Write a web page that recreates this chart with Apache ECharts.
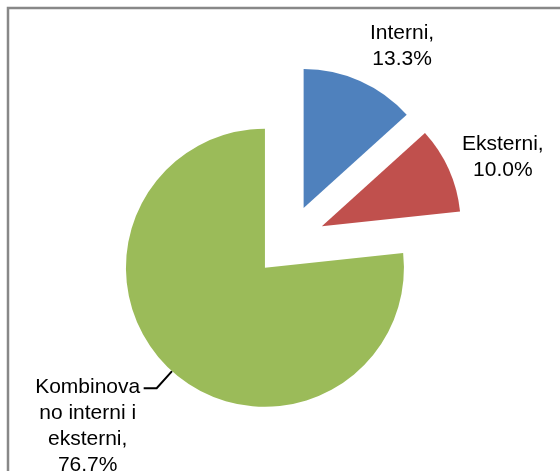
<!DOCTYPE html>
<html><head><meta charset="utf-8">
<script src="https://cdn.jsdelivr.net/npm/echarts@6/dist/echarts.min.js"></script>
<style>html,body{margin:0;padding:0;background:#fff}#c{width:560px;height:471px}</style>
</head><body><div id="c"></div>
<script>
// ---- data ----
const categories = ['Interni', 'Eksterni', 'Kombinovano interni i eksterni'];
const values = [13.3, 10.0, 76.7];
// label text as wrapped in the reference
const labelText = [['Interni,'], ['Eksterni,'], ['Kombinova', 'no interni i', 'eksterni,']];
const colors = ['#4F81BD', '#C0504D', '#9BBB59'];

const FONT = '"Liberation Sans Narrow", "Liberation Sans", Arial, sans-serif';

// per-slice label placement (styles/positions)
const labelCfg = [
  { len: 10, len2: 0, dist: 5, width: 66, padding: [0, 0, 51, 0], line: false },
  { len: 10, len2: 0, dist: 4, width: 82, padding: [0, 0, 17, 0], line: false },
  { len: 23, len2: 13, dist: 3, width: 106, padding: [75, 0, 0, 0], line: true }
];

const data = categories.map((name, i) => ({
  name: name,
  value: values[i],
  selected: true,
  itemStyle: { color: colors[i] },
  label: {
    distanceToLabelLine: labelCfg[i].dist,
    padding: labelCfg[i].padding,
    rich: { a: { width: labelCfg[i].width, align: 'center', lineHeight: 26, fontSize: 21, fontFamily: FONT, color: '#000' } }
  },
  labelLine: {
    show: labelCfg[i].line,
    length: labelCfg[i].len,
    length2: labelCfg[i].len2,
    lineStyle: { color: '#000', width: 2 }
  }
}));

const chart = echarts.init(document.getElementById('c'));
chart.setOption({
  animation: false,
  backgroundColor: '#fff',
  graphic: [{
    type: 'rect', silent: true,
    shape: { x: 8, y: 8, width: 700, height: 700 },
    style: { fill: 'none', stroke: '#888888', lineWidth: 2.5 }
  }],
  series: [{
    type: 'pie',
    center: [289, 241],
    radius: 139,
    startAngle: 90,
    clockwise: true,
    selectedMode: 'multiple',
    selectedOffset: 36,
    avoidLabelOverlap: false,
    select: { itemStyle: { borderWidth: 0 } },
    emphasis: { disabled: true },
    label: {
      show: true,
      position: 'outside',
      alignTo: 'none',
      formatter: function (p) {
        const lines = labelText[p.dataIndex].slice();
        lines.push(values[p.dataIndex].toFixed(1) + '%');
        return lines.map(s => '{a|' + s + '}').join('\n');
      }
    },
    data: data
  }]
});
</script>
</body></html>
